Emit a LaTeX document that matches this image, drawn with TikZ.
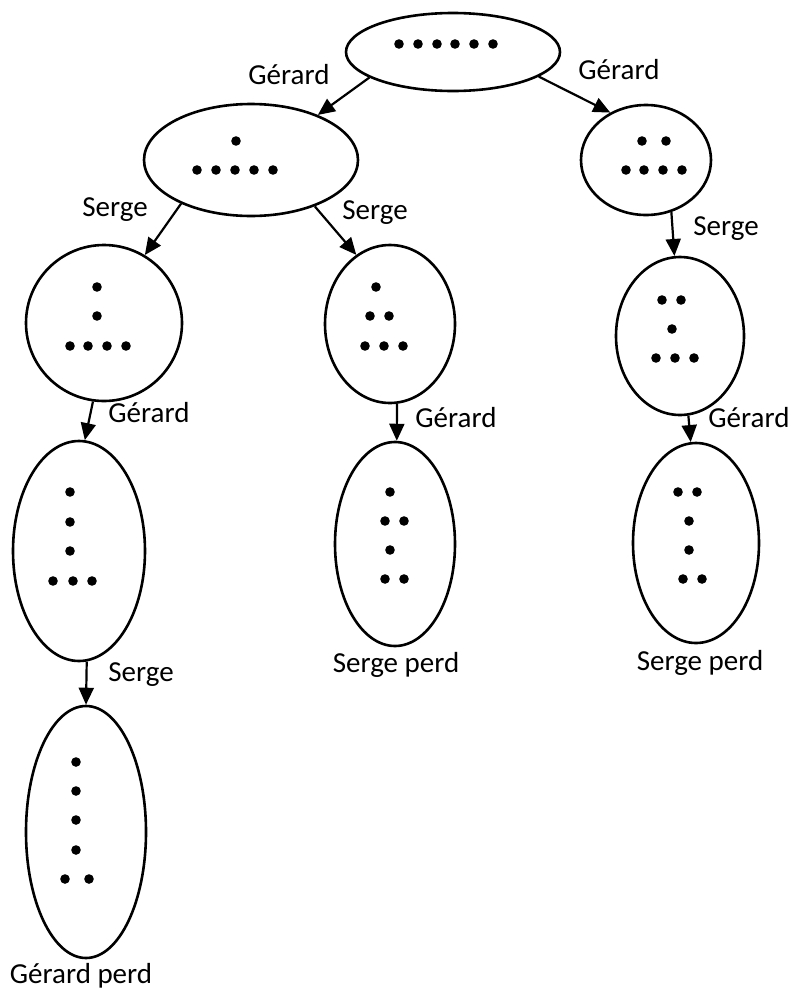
\documentclass[tikz,border=0pt]{standalone}
\usepackage{fontspec}
\setmainfont{Carlito}
\usetikzlibrary{shapes.geometric,arrows.meta}
\begin{document}
\begin{tikzpicture}[x=0.5pt,y=-0.5pt,
  etat/.style={ellipse,draw,line width=1.3pt,inner sep=0pt},
  coup/.style={line width=1.1pt,-{Triangle[length=8.5pt,width=7.5pt]}},
  lbl/.style={font=\fontsize{14.5pt}{17pt}\selectfont,inner sep=0pt,anchor=west},
  fin/.style={font=\fontsize{14.5pt}{17pt}\selectfont,inner sep=0pt}]
\path[use as bounding box] (0,0) rectangle (803,996);

% game states
\node[etat,minimum width=107pt,minimum height=39pt] (e1) at (453,52) {};
\node[etat,minimum width=107pt,minimum height=56pt] (e2) at (251,160) {};
\node[etat,minimum width=65pt,minimum height=55pt] (e3) at (646,160) {};
\node[etat,minimum width=78pt,minimum height=78pt] (e4) at (104,323) {};
\node[etat,minimum width=65pt,minimum height=79pt] (e5) at (390,324) {};
\node[etat,minimum width=64pt,minimum height=79pt] (e6) at (680,336) {};
\node[etat,minimum width=66pt,minimum height=110pt] (e7) at (79,551) {};
\node[etat,minimum width=60pt,minimum height=102pt] (e8) at (395,544) {};
\node[etat,minimum width=63pt,minimum height=100pt] (e9) at (696,543) {};
\node[etat,minimum width=60pt,minimum height=126pt] (e10) at (86,832) {};

% tokens in each state
\foreach \p in {(399,44),(418,44),(437,44),(455,44),(474,44),(493,44),
  (236,141),(197,170),(216,170),(235,170),(254,170),(273,170),
  (642,141),(666,141),(626,170),(644,170),(663,170),(682,170),
  (97,287),(97,316),(70,346),(88,346),(107,346),(126,346),
  (376,287),(370,316),(389,316),(365,346),(384,346),(403,346),
  (662,300),(681,300),(672,329),(656,358),(675,358),(694,358),
  (70,492),(70,522),(70,551),(53,581),(73,581),(92,581),
  (390,492),(385,521),(404,521),(390,550),(385,579),(404,579),
  (678,492),(697,492),(689,521),(689,550),(683,579),(702,579),
  (76,762),(76,791),(76,820),(76,850),(65,879),(89,879)}
  \fill \p circle[radius=2.4pt];

% moves
\draw[coup] (e1.197) -- (e2.34);
\draw[coup] (e1.344) -- (e3.127);
\draw[coup] (e2.212) -- (e4.59);
\draw[coup] (e2.324) -- (e5.116);
\draw[coup] (e3.296) -- (e6.94);
\draw[coup] (e4.262) -- (e7.87);
\draw[coup] (e5.275) -- (e8.89);
\draw[coup] (e6.276) -- (e9.93);
\draw[coup] (e7.274) -- (e10.90);

% move labels
\node[lbl] (l1) at (248,75) {Gérard};
\node[lbl] (l2) at (578,70) {Gérard};
\node[lbl] (l3) at (82,210) {Serge};
\node[lbl] (l4) at (342,213) {Serge};
\node[lbl] (l5) at (693,229) {Serge};
\node[lbl] (l6) at (108,413) {Gérard};
\node[lbl] (l7) at (415,418) {Gérard};
\node[lbl] (l8) at (708,418) {Gérard};
\node[lbl] (l9) at (108,675) {Serge};

% outcomes
\node[fin] (r1) at (396,665) {Serge perd};
\node[fin] (r2) at (700,663) {Serge perd};
\node[fin] (r3) at (81,976) {Gérard perd};
\end{tikzpicture}
\end{document}
